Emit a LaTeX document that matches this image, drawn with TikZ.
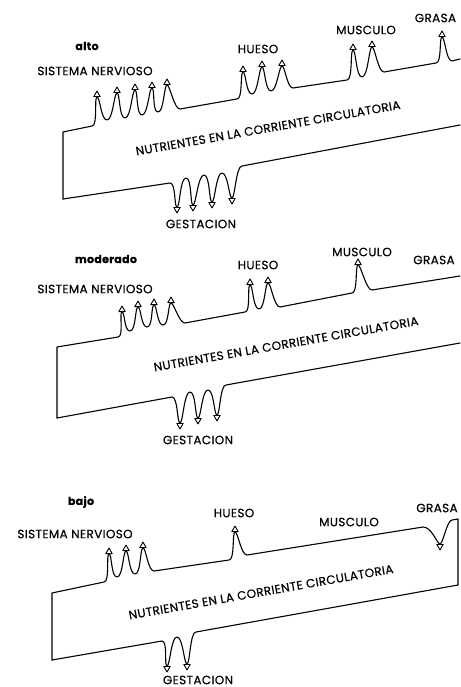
\documentclass[tikz,border=0pt]{standalone}
\usepackage{fontspec}
\setmainfont{Poppins}[FakeBold=0.4,LetterSpace=3]
\usetikzlibrary{shapes.geometric}

\begin{document}
\begin{tikzpicture}[x=1pt,y=-1pt,line width=1.1pt,line join=round,line cap=round,
    uphead/.style={draw,fill=white,isosceles triangle,isosceles triangle apex angle=60,
        shape border rotate=90,anchor=lower side,inner sep=0pt,minimum size=5.5pt,line width=0.9pt},
    downhead/.style={uphead,shape border rotate=270},
    lbl/.style={font=\fontsize{12}{13}\selectfont},
    lvl/.style={font=\bfseries\fontsize{11}{12}\selectfont},
    nutr/.style={lbl,rotate=10}]
    \useasboundingbox (0,0) rectangle (460,687);

    %alto
    \node[lvl] (alto) at (87,46) {alto};
    \node[lbl] (nerv1) at (95,71) {SISTEMA NERVIOSO};
    \node[lbl] (hueso1) at (258,49) {HUESO};
    \node[lbl] (musc1) at (366,30) {MUSCULO};
    \node[lbl,anchor=east] (grasa1) at (460,18) {GRASA};
    \node[nutr] (nutr1) at (268,128) {NUTRIENTES EN LA CORRIENTE CIRCULATORIA};
    \node[lbl] (gest1) at (201,224) {GESTACION};
    \draw (63,199) -- (63,132)
        \foreach \sx/\sy/\tx/\ty/\bx/\by [count=\i] in {92/126/97/92/107/120,107/120/117/88/125/118,
            125/118/135/85/142/115,142/115/152/83/158/112,158/112/167/80/180/109,
            237/99/243/67/252/94,252/94/262/62/271/91,271/91/282/61/293/88,
            347/80/353/45/362/77,362/77/372/42/384/72,436/63/442/32/452/61}
        { -- (\sx,\sy) .. controls +(6,0) and +(-3,0) .. (\tx,\ty+5) node[uphead] (a-up-\i) {}
            .. controls +(3,0) and +(-6,0) .. (\bx,\by) }
        -- (460,59);
    \draw (63,199)
        \foreach \sx/\sy/\tx/\ty/\bx/\by [count=\i] in {170/183/177/212/186/178,186/178/193/210/204/175,
            204/175/212/207/222/173,222/173/232/203/242/166}
        { -- (\sx,\sy) .. controls +(6,0) and +(-3,0) .. (\tx,\ty-5) node[downhead] (a-dn-\i) {}
            .. controls +(3,0) and +(-6,0) .. (\bx,\by) }
        -- (460,125);

    %moderado
    \node[lvl] (moderado) at (106,259) {moderado};
    \node[lbl] (nerv2) at (95,289) {SISTEMA NERVIOSO};
    \node[lbl] (hueso2) at (258,265) {HUESO};
    \node[lbl] (musc2) at (362,252) {MUSCULO};
    \node[lbl] (grasa2) at (434,260) {GRASA};
    \node[nutr] (nutr2) at (286,344) {NUTRIENTES EN LA CORRIENTE CIRCULATORIA};
    \node[lbl] (gest2) at (198,440) {GESTACION};
    \draw (57,418) -- (57,347)
        \foreach \sx/\sy/\tx/\ty/\bx/\by [count=\i] in {118/337/122/307/130/331,130/331/138/302/147/327,
            147/327/154/300/163/325,163/325/171/298/185/323,
            245/312/250/280/259/309,259/309/268/278/280/307,352/293/358/260/372/290}
        { -- (\sx,\sy) .. controls +(6,0) and +(-3,0) .. (\tx,\ty+5) node[uphead] (b-up-\i) {}
            .. controls +(3,0) and +(-6,0) .. (\bx,\by) }
        -- (460,276);
    \draw (57,418)
        \foreach \sx/\sy/\tx/\ty/\bx/\by [count=\i] in {172/397/180/428/190/392,190/392/198/423/208/390,
            208/390/217/420/226/385}
        { -- (\sx,\sy) .. controls +(6,0) and +(-3,0) .. (\tx,\ty-5) node[downhead] (b-dn-\i) {}
            .. controls +(3,0) and +(-6,0) .. (\bx,\by) }
        -- (460,343);

    %bajo
    \node[lvl] (bajo) at (81,502) {bajo};
    \node[lbl] (nerv3) at (75,534) {SISTEMA NERVIOSO};
    \node[lbl] (hueso3) at (234,513) {HUESO};
    \node[lbl] (musc3) at (349,522) {MUSCULO};
    \node[lbl] (grasa3) at (437,508) {GRASA};
    \node[nutr] (nutr3) at (261,592) {NUTRIENTES EN LA CORRIENTE CIRCULATORIA};
    \node[lbl] (gest3) at (198,680) {GESTACION};
    \draw (52,660) -- (52,593)
        \foreach \sx/\sy/\tx/\ty/\bx/\by [count=\i] in {104/582/109/549/117/577,117/577/126/546/135/574,
            135/574/143/543/154/571,229/560/235/527/247/555}
        { -- (\sx,\sy) .. controls +(6,0) and +(-3,0) .. (\tx,\ty+5) node[uphead] (c-up-\i) {}
            .. controls +(3,0) and +(-6,0) .. (\bx,\by) }
        -- (423,527) .. controls +(9,0) and +(-3,0) .. (440,544) node[downhead] (c-grasa) {}
        .. controls +(3,0) and +(-5,0) .. (452,520) -- (458,519) -- (458,585);
    \draw (52,660)
        \foreach \sx/\sy/\tx/\ty/\bx/\by [count=\i] in {162/641/167/671/177/637,177/637/187/669/196/632}
        { -- (\sx,\sy) .. controls +(6,0) and +(-3,0) .. (\tx,\ty-5) node[downhead] (c-dn-\i) {}
            .. controls +(3,0) and +(-6,0) .. (\bx,\by) }
        -- (458,585);
\end{tikzpicture}
\end{document}
